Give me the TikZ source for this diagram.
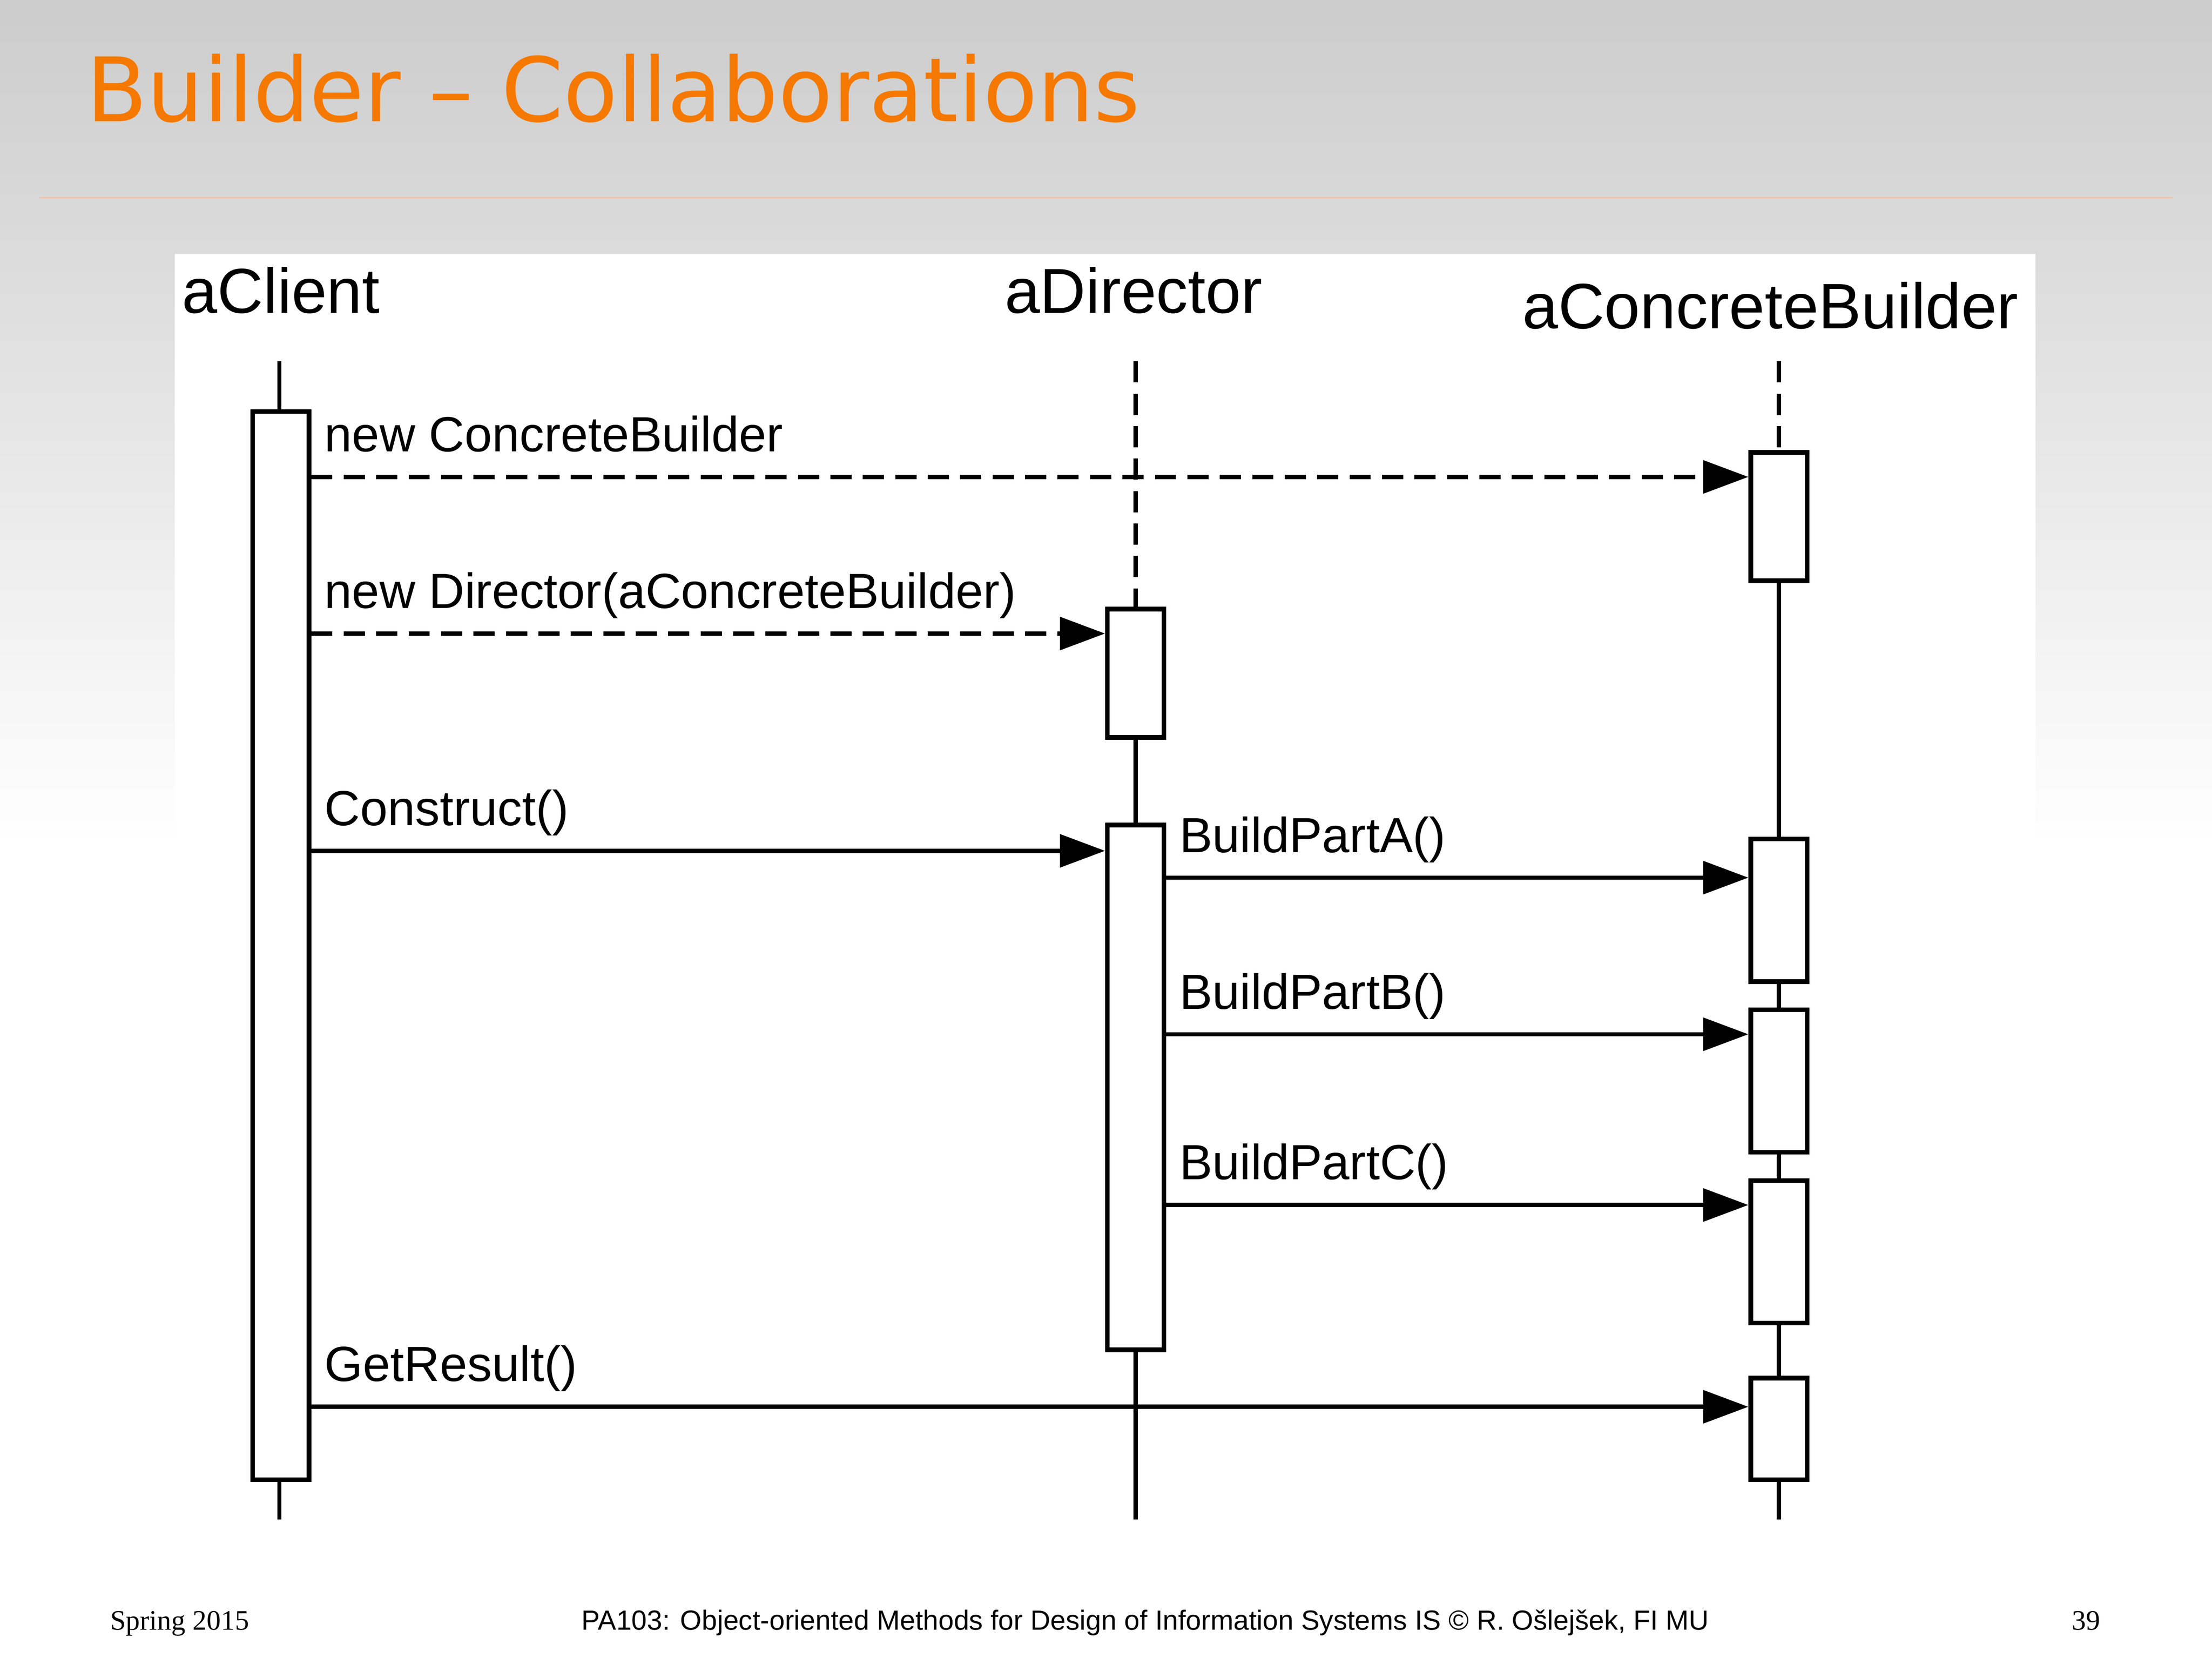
\documentclass[tikz,border=0pt]{standalone}
\usepackage{fontspec}
\usetikzlibrary{arrows.meta}
\newfontfamily\umlfont{Liberation Sans}
\newfontfamily\slidefont{DejaVu Sans}
\newfontfamily\footfont{Liberation Serif}
\definecolor{titleorange}{RGB}{245,121,0}
\definecolor{slidegray}{RGB}{204,204,204}
\definecolor{rulepeach}{RGB}{236,196,170}

\begin{document}
\begin{tikzpicture}[x=1pt,y=-1pt,
  act/.style={draw=black, line width=3.3pt, fill=white, minimum width=40pt, inner sep=0pt, anchor=north},
  life/.style={black, line width=3pt},
  msg/.style={black, line width=3pt, -{Triangle[length=32pt,width=23pt]}},
  create/.style={msg, dash pattern=on 15pt off 8pt},
  obj/.style={font=\umlfont\fontsize{45}{54}\selectfont, inner sep=0pt, anchor=base west},
  lbl/.style={font=\umlfont\fontsize{35}{42}\selectfont, inner sep=0pt, anchor=base west, xshift=8pt, yshift=18pt}]

\useasboundingbox (0,0) rectangle (1568,1175);
\fill [white] (0,0) rectangle (1568,1175);
\shade [top color=slidegray, bottom color=white] (0,0) rectangle (1568,600);
\draw [rulepeach, line width=1pt] (28,140) -- (1540,140);
\fill [white] (124,180) rectangle (1443,1100);

\node [font=\slidefont\fontsize{63}{75}\selectfont, text=titleorange, inner sep=0pt, anchor=base west] (title) at (61,86) {Builder – Collaborations};

\node [obj] (client) at (129,222) {aClient};
\node [obj] (director) at (712,222) {aDirector};
\node [obj, font=\umlfont\fontsize{45.5}{54}\selectfont] (builder) at (1079,233) {aConcreteBuilder};

\coordinate (ctop) at (198,256);
\coordinate (cbot) at (198,1077);
\coordinate (dtop) at (805,256);
\coordinate (dbot) at (805,1077);
\coordinate (btop) at (1261,256);
\coordinate (bbot) at (1261,1077);

\coordinate (r1) at (0,338);
\coordinate (r2) at (0,449);
\coordinate (r3) at (0,603);
\coordinate (r4) at (0,622);
\coordinate (r5) at (0,733);
\coordinate (r6) at (0,854);
\coordinate (r7) at (0,997);

\draw [life] (ctop) -- (cbot);
\node [act, minimum height=757pt] (cl) at (199,290) {};

\node [act, minimum height=91pt] (d1) at (805,430) {};
\node [act, minimum height=372pt] (d2) at (805,583) {};
\draw [life, dash pattern=on 15pt off 8pt] (dtop) -- (d1.north);
\draw [life] (d1.south) -- (d2.north);
\draw [life] (d2.south) -- (dbot);

\node [act, minimum height=91pt] (b1) at (1261,319) {};
\node [act, minimum height=101pt] (b2) at (1261,593) {};
\node [act, minimum height=101pt] (b3) at (1261,714) {};
\node [act, minimum height=101pt] (b4) at (1261,835) {};
\node [act, minimum height=72pt] (b5) at (1261,975) {};
\draw [life, dash pattern=on 15pt off 8pt] (btop) -- (b1.north);
\draw [life] (b1.south) -- (b2.north);
\draw [life] (b2.south) -- (b3.north);
\draw [life] (b3.south) -- (b4.north);
\draw [life] (b4.south) -- (b5.north);
\draw [life] (b5.south) -- (bbot);

\draw [create] (cl.east |- r1) -- (b1.west |- r1) node [lbl, at start] (newcb) {new ConcreteBuilder};
\draw [create] (cl.east |- r2) -- (d1.west |- r2) node [lbl, at start] (newdir) {new Director(aConcreteBuilder)};
\draw [msg] (cl.east |- r3) -- (d2.west |- r3) node [lbl, at start] (construct) {Construct()};
\draw [msg] (d2.east |- r4) -- (b2.west |- r4) node [lbl, at start] (parta) {BuildPartA()};
\draw [msg] (d2.east |- r5) -- (b3.west |- r5) node [lbl, at start] (partb) {BuildPartB()};
\draw [msg] (d2.east |- r6) -- (b4.west |- r6) node [lbl, at start] (partc) {BuildPartC()};
\draw [msg] (cl.east |- r7) -- (b5.west |- r7) node [lbl, at start] (result) {GetResult()};

\node [font=\footfont\fontsize{20}{24}\selectfont, inner sep=0pt, anchor=base west] (term) at (78,1155) {Spring 2015};
\node [font=\umlfont\fontsize{19.6}{24}\selectfont, inner sep=0pt, anchor=base west] (course) at (412,1155) {PA103: Object-oriented Methods for Design of Information Systems IS © R. Ošlejšek, FI MU};
\node [font=\footfont\fontsize{20}{24}\selectfont, inner sep=0pt, anchor=base east] (page) at (1489,1155) {39};

\end{tikzpicture}
\end{document}
